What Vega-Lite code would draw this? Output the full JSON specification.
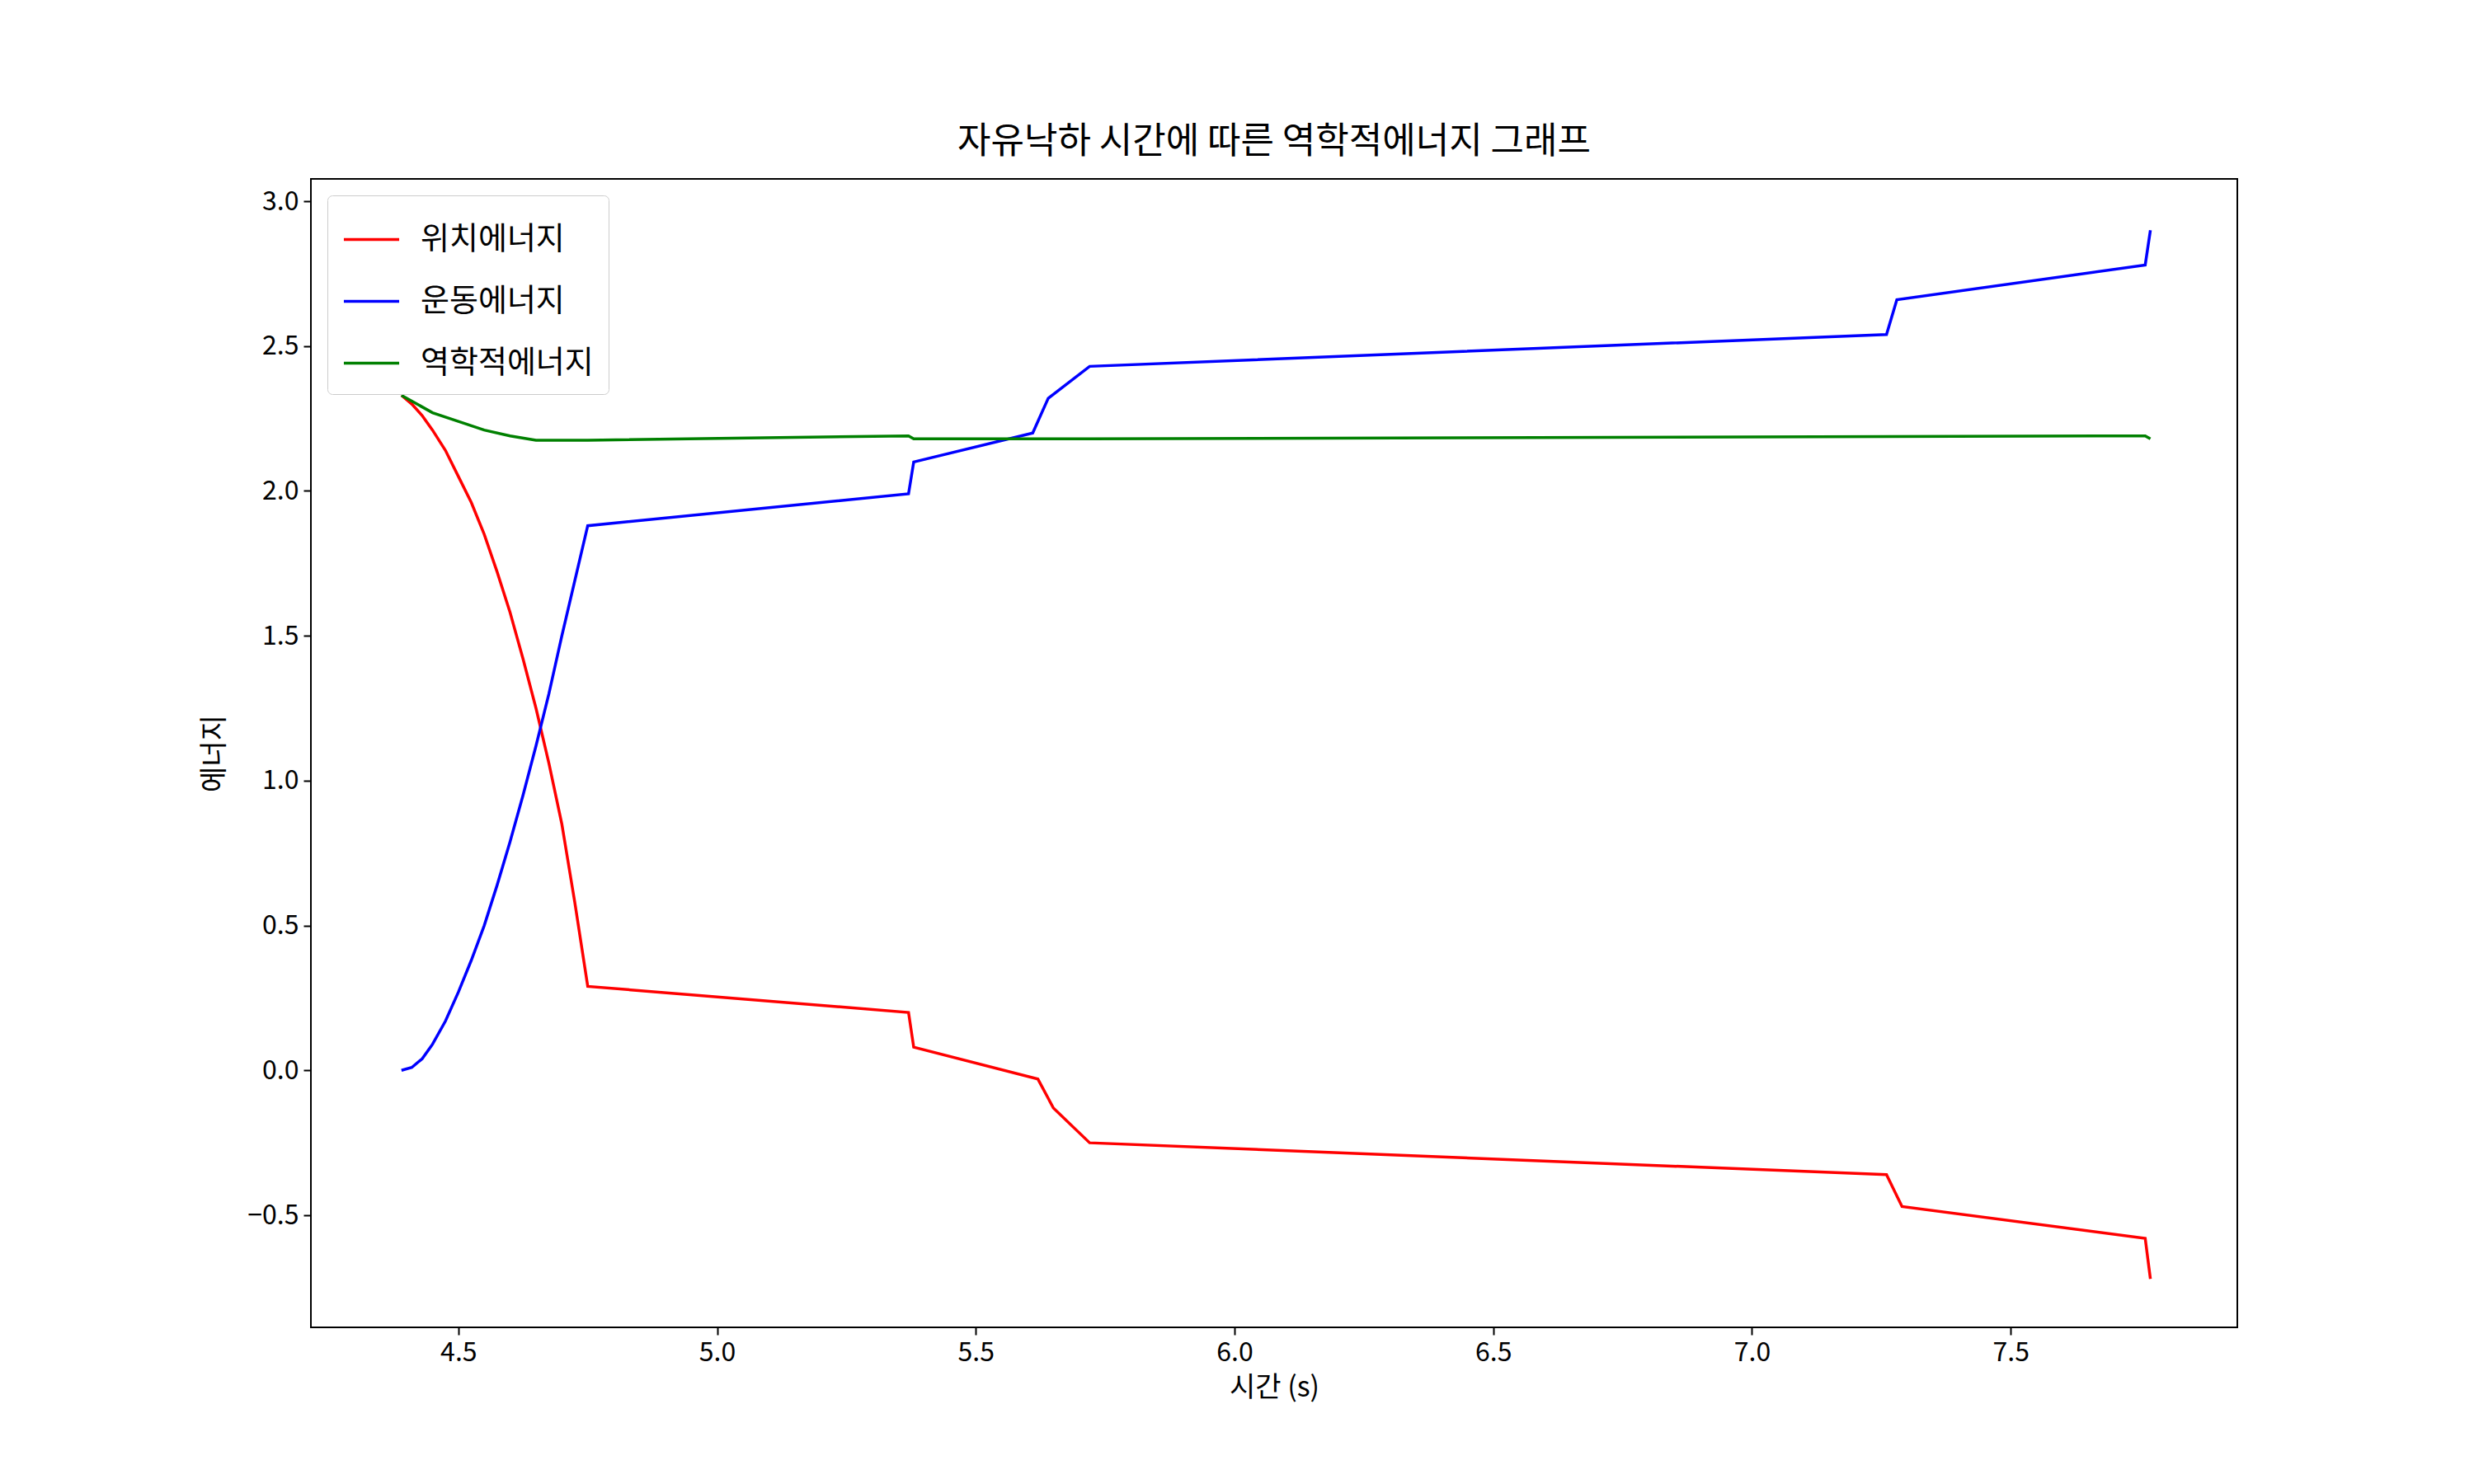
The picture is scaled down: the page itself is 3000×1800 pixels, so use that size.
{
  "$schema": "https://vega.github.io/schema/vega-lite/v6.json",
  "width": 2336,
  "height": 1393,
  "padding": {"left": 377, "top": 217, "right": 280, "bottom": 150},
  "autosize": "none",
  "background": "white",
  "config": {
    "font": "Noto Sans CJK KR",
    "view": {"stroke": "black", "strokeWidth": 2},
    "axis": {"grid": false, "domain": false, "tickColor": "black", "tickWidth": 2, "tickSize": 9, "labelFontSize": 32, "labelColor": "black", "titleFontSize": 34, "titleFontWeight": "normal", "titleColor": "black", "labelFont": "Noto Sans CJK KR", "titleFont": "Noto Sans CJK KR"}
  },
  "title": {"text": "자유낙하 시간에 따른 역학적에너지 그래프", "fontSize": 44, "fontWeight": "normal", "color": "black", "offset": 22},
  "data": {"values": [
    {"t": 4.39, "e": 2.33, "s": "위치에너지"},
    {"t": 4.41, "e": 2.3, "s": "위치에너지"},
    {"t": 4.43, "e": 2.26, "s": "위치에너지"},
    {"t": 4.45, "e": 2.21, "s": "위치에너지"},
    {"t": 4.475, "e": 2.14, "s": "위치에너지"},
    {"t": 4.5, "e": 2.05, "s": "위치에너지"},
    {"t": 4.525, "e": 1.96, "s": "위치에너지"},
    {"t": 4.55, "e": 1.85, "s": "위치에너지"},
    {"t": 4.575, "e": 1.72, "s": "위치에너지"},
    {"t": 4.6, "e": 1.58, "s": "위치에너지"},
    {"t": 4.625, "e": 1.42, "s": "위치에너지"},
    {"t": 4.65, "e": 1.25, "s": "위치에너지"},
    {"t": 4.675, "e": 1.06, "s": "위치에너지"},
    {"t": 4.7, "e": 0.85, "s": "위치에너지"},
    {"t": 4.725, "e": 0.58, "s": "위치에너지"},
    {"t": 4.75, "e": 0.29, "s": "위치에너지"},
    {"t": 5.37, "e": 0.2, "s": "위치에너지"},
    {"t": 5.38, "e": 0.08, "s": "위치에너지"},
    {"t": 5.62, "e": -0.03, "s": "위치에너지"},
    {"t": 5.65, "e": -0.13, "s": "위치에너지"},
    {"t": 5.72, "e": -0.25, "s": "위치에너지"},
    {"t": 7.26, "e": -0.36, "s": "위치에너지"},
    {"t": 7.29, "e": -0.47, "s": "위치에너지"},
    {"t": 7.76, "e": -0.58, "s": "위치에너지"},
    {"t": 7.77, "e": -0.72, "s": "위치에너지"},
    {"t": 4.39, "e": 0.0, "s": "운동에너지"},
    {"t": 4.41, "e": 0.01, "s": "운동에너지"},
    {"t": 4.43, "e": 0.04, "s": "운동에너지"},
    {"t": 4.45, "e": 0.09, "s": "운동에너지"},
    {"t": 4.475, "e": 0.17, "s": "운동에너지"},
    {"t": 4.5, "e": 0.27, "s": "운동에너지"},
    {"t": 4.525, "e": 0.38, "s": "운동에너지"},
    {"t": 4.55, "e": 0.5, "s": "운동에너지"},
    {"t": 4.575, "e": 0.64, "s": "운동에너지"},
    {"t": 4.6, "e": 0.79, "s": "운동에너지"},
    {"t": 4.625, "e": 0.95, "s": "운동에너지"},
    {"t": 4.65, "e": 1.12, "s": "운동에너지"},
    {"t": 4.675, "e": 1.3, "s": "운동에너지"},
    {"t": 4.7, "e": 1.5, "s": "운동에너지"},
    {"t": 4.725, "e": 1.69, "s": "운동에너지"},
    {"t": 4.75, "e": 1.88, "s": "운동에너지"},
    {"t": 5.37, "e": 1.99, "s": "운동에너지"},
    {"t": 5.38, "e": 2.1, "s": "운동에너지"},
    {"t": 5.61, "e": 2.2, "s": "운동에너지"},
    {"t": 5.64, "e": 2.32, "s": "운동에너지"},
    {"t": 5.72, "e": 2.43, "s": "운동에너지"},
    {"t": 7.26, "e": 2.54, "s": "운동에너지"},
    {"t": 7.28, "e": 2.66, "s": "운동에너지"},
    {"t": 7.76, "e": 2.78, "s": "운동에너지"},
    {"t": 7.77, "e": 2.9, "s": "운동에너지"},
    {"t": 4.39, "e": 2.33, "s": "역학적에너지"},
    {"t": 4.42, "e": 2.3, "s": "역학적에너지"},
    {"t": 4.45, "e": 2.27, "s": "역학적에너지"},
    {"t": 4.5, "e": 2.24, "s": "역학적에너지"},
    {"t": 4.55, "e": 2.21, "s": "역학적에너지"},
    {"t": 4.6, "e": 2.19, "s": "역학적에너지"},
    {"t": 4.65, "e": 2.175, "s": "역학적에너지"},
    {"t": 4.75, "e": 2.175, "s": "역학적에너지"},
    {"t": 5.37, "e": 2.19, "s": "역학적에너지"},
    {"t": 5.38, "e": 2.18, "s": "역학적에너지"},
    {"t": 5.72, "e": 2.18, "s": "역학적에너지"},
    {"t": 7.76, "e": 2.19, "s": "역학적에너지"},
    {"t": 7.77, "e": 2.18, "s": "역학적에너지"}
  ]},
  "mark": {"type": "line", "strokeWidth": 3.5},
  "encoding": {
    "x": {"field": "t", "type": "quantitative", "title": "시간 (s)",
      "scale": {"domain": [4.215, 7.938], "nice": false, "zero": false},
      "axis": {"values": [4.5, 5.0, 5.5, 6.0, 6.5, 7.0, 7.5], "format": ".1f", "labelPadding": 6, "titlePadding": 10}},
    "y": {"field": "e", "type": "quantitative", "title": "에너지",
      "scale": {"domain": [-0.887, 3.077], "nice": false, "zero": false},
      "axis": {"values": [-0.5, 0, 0.5, 1.0, 1.5, 2.0, 2.5, 3.0], "format": ".1f", "labelPadding": 6, "titlePadding": 22}},
    "color": {"field": "s", "type": "nominal",
      "scale": {"domain": ["위치에너지", "운동에너지", "역학적에너지"], "range": ["red", "blue", "green"]},
      "legend": {"title": null, "orient": "top-left", "offset": 20, "symbolType": "stroke", "symbolStrokeWidth": 3.5, "symbolSize": 4500, "labelFontSize": 38, "labelLimit": 600, "labelOffset": 24, "labelColor": "black", "rowPadding": 20, "padding": 18, "strokeColor": "#cccccc", "fillColor": "white", "cornerRadius": 6}},
    "order": {"field": "t", "type": "quantitative"}
  }
}
